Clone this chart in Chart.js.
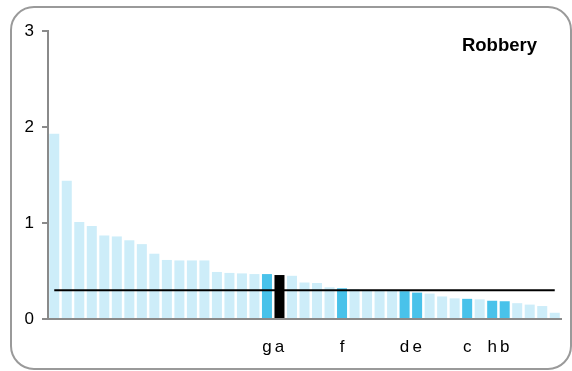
<!DOCTYPE html>
<html>
<head>
<meta charset="utf-8">
<script src="https://cdn.jsdelivr.net/npm/chart.js@4.4.1/dist/chart.umd.min.js"></script>
<style>
  html, body { margin: 0; padding: 0; background: #fff; }
  #wrap { position: relative; width: 572px; height: 371px; }
  #frame { position: absolute; left: 10px; top: 6px; width: 558px; height: 360px;
           border: 2px solid #9a9a9a; border-radius: 24px; box-sizing: content-box; }
  #c { position: absolute; left: 0; top: 0; }
</style>
</head>
<body>
<div id="wrap">
  <div id="frame"></div>
  <canvas id="c" width="572" height="371"></canvas>
</div>
<script>
// ---- data ----
const categories = ['', '', '', '', '', '', '', '', '', '', '', '', '', '', '', '', '', 'g', 'a', '', '', '', '', 'f', '', '', '', '', 'd', 'e', '', '', '', 'c', '', 'h', 'b', '', '', '', ''];
const values = [1.93, 1.44, 1.01, 0.97, 0.87, 0.86, 0.82, 0.78, 0.68, 0.615, 0.61, 0.61, 0.61, 0.49, 0.48, 0.475, 0.468, 0.468, 0.458, 0.45, 0.38, 0.375, 0.33, 0.32, 0.31, 0.30, 0.30, 0.30, 0.29, 0.275, 0.265, 0.235, 0.215, 0.21, 0.205, 0.19, 0.185, 0.165, 0.15, 0.135, 0.065];
const referenceLevel = 0.3;
const selected = 'a';
const chartTitle = 'Robbery';
const yTicks = [0, 1, 2, 3];

// ---- styles ----
const LIGHT = '#cdedf9';
const BLUE = '#49c2ea';
const BLACK = '#000000';
const AXIS = '#8a8a8a';
const FONT = "'Liberation Sans', Arial, sans-serif";

const barColors = categories.map(c => c === selected ? BLACK : (c !== '' ? BLUE : LIGHT));
const refLine = categories.map(() => referenceLevel);

const titlePlugin = {
  id: 'cornerTitle',
  afterDraw(chart) {
    const ctx = chart.ctx;
    const a = chart.chartArea;
    ctx.save();
    ctx.font = 'bold 18.5px ' + FONT;
    ctx.fillStyle = '#000';
    ctx.textAlign = 'right';
    ctx.textBaseline = 'alphabetic';
    ctx.fillText(chartTitle, a.right - 24, a.top + 20);
    ctx.restore();
  }
};

new Chart(document.getElementById('c'), {
  type: 'bar',
  data: {
    labels: categories,
    datasets: [
      {
        type: 'line',
        data: refLine,
        borderColor: BLACK,
        borderWidth: 2,
        pointRadius: 0,
        fill: false,
        order: 0
      },
      {
        type: 'bar',
        data: values,
        backgroundColor: barColors,
        borderWidth: 0,
        barPercentage: 0.8,
        categoryPercentage: 1.0,
        order: 1
      }
    ]
  },
  options: {
    responsive: false,
    animation: false,
    devicePixelRatio: 1,
    layout: { padding: { left: 0, right: 11, top: 31, bottom: 0 } },
    plugins: { legend: { display: false }, tooltip: { enabled: false }, title: { display: false } },
    scales: {
      x: {
        offset: true,
        grid: { display: false },
        border: { display: true, color: AXIS, width: 2 },
        ticks: { autoSkip: false, maxRotation: 0, minRotation: 0, color: '#000', padding: 10,
                 font: { family: FONT, size: 17 } },
        afterFit(scale) { scale.height = 52; }
      },
      y: {
        min: 0, max: 3,
        afterBuildTicks(scale) { scale.ticks = yTicks.map(v => ({ value: v })); },
        grid: { drawOnChartArea: false, drawTicks: true, tickLength: 6, color: AXIS, lineWidth: 2 },
        border: { display: true, color: AXIS, width: 2 },
        ticks: { color: '#000', padding: 8, font: { family: FONT, size: 17 } },
        afterFit(scale) { scale.width = 48; }
      }
    }
  },
  plugins: [titlePlugin]
});
</script>
</body>
</html>
